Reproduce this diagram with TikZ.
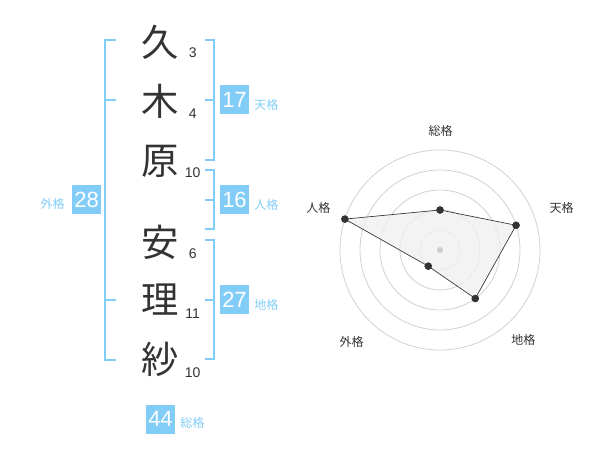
\documentclass[tikz,border=0pt]{standalone}
\usepackage{fontspec}
\setmainfont{Liberation Sans}
\newfontfamily\jp{Noto Sans CJK JP}
\definecolor{kakublue}{RGB}{130,205,248}
\definecolor{ink}{RGB}{51,51,51}

\tikzstyle{kanji}=[font=\jp\fontsize{28}{28}\selectfont, text=ink, inner sep=0pt]
\tikzstyle{strokes}=[font=\fontsize{10.5}{10.5}\selectfont, text=ink, inner sep=0pt]
\tikzstyle{kakubox}=[fill=kakublue, text=white, minimum size=21.75pt, inner sep=0pt, font=\fontsize{16.5}{16.5}\selectfont]
\tikzstyle{kakulabel}=[font=\jp\fontsize{9}{9}\selectfont, text=kakublue, inner sep=0pt]
\tikzstyle{bracket}=[draw=kakublue, line width=1.5pt]
\tikzstyle{ring}=[draw=black!18, line width=0.6pt]
\tikzstyle{vertex}=[draw=ink,circle,fill=ink, minimum size=5.25pt,inner sep=0pt]
\tikzstyle{axislabel}=[font=\jp\fontsize{9}{9}\selectfont, text=ink, inner sep=0pt]
\tikzstyle{edge} = [draw=ink, line width=0.5pt]

\begin{document}
\begin{tikzpicture}[x=0.75pt,y=-0.75pt]
\useasboundingbox (0,0) rectangle (600,470);

\node[kanji] (k1) at (160,42) {久};
\node[strokes] (s1) at (192.7,52.7) {3};
\node[kanji] (k2) at (160,101.5) {木};
\node[strokes] (s2) at (192.7,113.3) {4};
\node[kanji] (k3) at (160,161.5) {原};
\node[strokes] (s3) at (192.7,172.7) {10};
\node[kanji] (k4) at (160,242.5) {安};
\node[strokes] (s4) at (192.7,253.3) {6};
\node[kanji] (k5) at (160,300) {理};
\node[strokes] (s5) at (192.7,313.3) {11};
\node[kanji] (k6) at (160,359) {紗};
\node[strokes] (s6) at (192.7,372.7) {10};

\draw[bracket] (116,40) -- (105,40) -- (105,360) -- (116,360);
\draw[bracket] (105,100) -- (116,100);
\draw[bracket] (105,300) -- (116,300);

\draw[bracket] (205,40) -- (214,40) -- (214,160) -- (205,160);
\draw[bracket] (205,100) -- (214,100);
\draw[bracket] (205,170) -- (214,170) -- (214,229.5) -- (205,229.5);
\draw[bracket] (205,200) -- (214,200);
\draw[bracket] (205,240) -- (214,240) -- (214,359.5) -- (205,359.5);
\draw[bracket] (205,300) -- (214,300);

\node[kakubox] (ten) at (234.5,100) {17};
\node[kakulabel, anchor=west] (tenlabel) at (254,104.5) {天格};
\node[kakubox] (jin) at (234.5,200) {16};
\node[kakulabel, anchor=west] (jinlabel) at (254,204.5) {人格};
\node[kakubox] (chi) at (234.5,300) {27};
\node[kakulabel, anchor=west] (chilabel) at (254,304.5) {地格};
\node[kakubox] (gai) at (86.7,200) {28};
\node[kakulabel, anchor=east] (gailabel) at (65,203.5) {外格};
\node[kakubox] (sou) at (160.5,419) {44};
\node[kakulabel, anchor=west] (soulabel) at (180,422.5) {総格};

\begin{scope}[shift={(440,250)},yscale=-1]
\foreach \r in {20,40,60,80,100}
  \draw[ring] (0,0) circle (\r);
\coordinate (psou) at (90:40);
\coordinate (pten) at (18:80);
\coordinate (pchi) at (-54:60);
\coordinate (pgai) at (-126:20);
\coordinate (pjin) at (162:100);
\fill[black!6, opacity=0.8] (psou) -- (pten) -- (pchi) -- (pgai) -- (pjin) -- cycle;
\draw[edge] (psou) -- (pten) -- (pchi) -- (pgai) -- (pjin) -- cycle;
\node[circle, fill=black!20, minimum size=4.5pt, inner sep=0pt] (center) at (0,0) {};
\foreach \p in {psou,pten,pchi,pgai,pjin}
  \node[vertex] (v\p) at (\p) {};
\end{scope}

\node[axislabel] (asou) at (440.7,130.7) {総格};
\node[axislabel] (aten) at (561.7,208.3) {天格};
\node[axislabel] (achi) at (523.3,340) {地格};
\node[axislabel] (agai) at (351.7,342.3) {外格};
\node[axislabel] (ajin) at (318.3,208.3) {人格};
\end{tikzpicture}
\end{document}
